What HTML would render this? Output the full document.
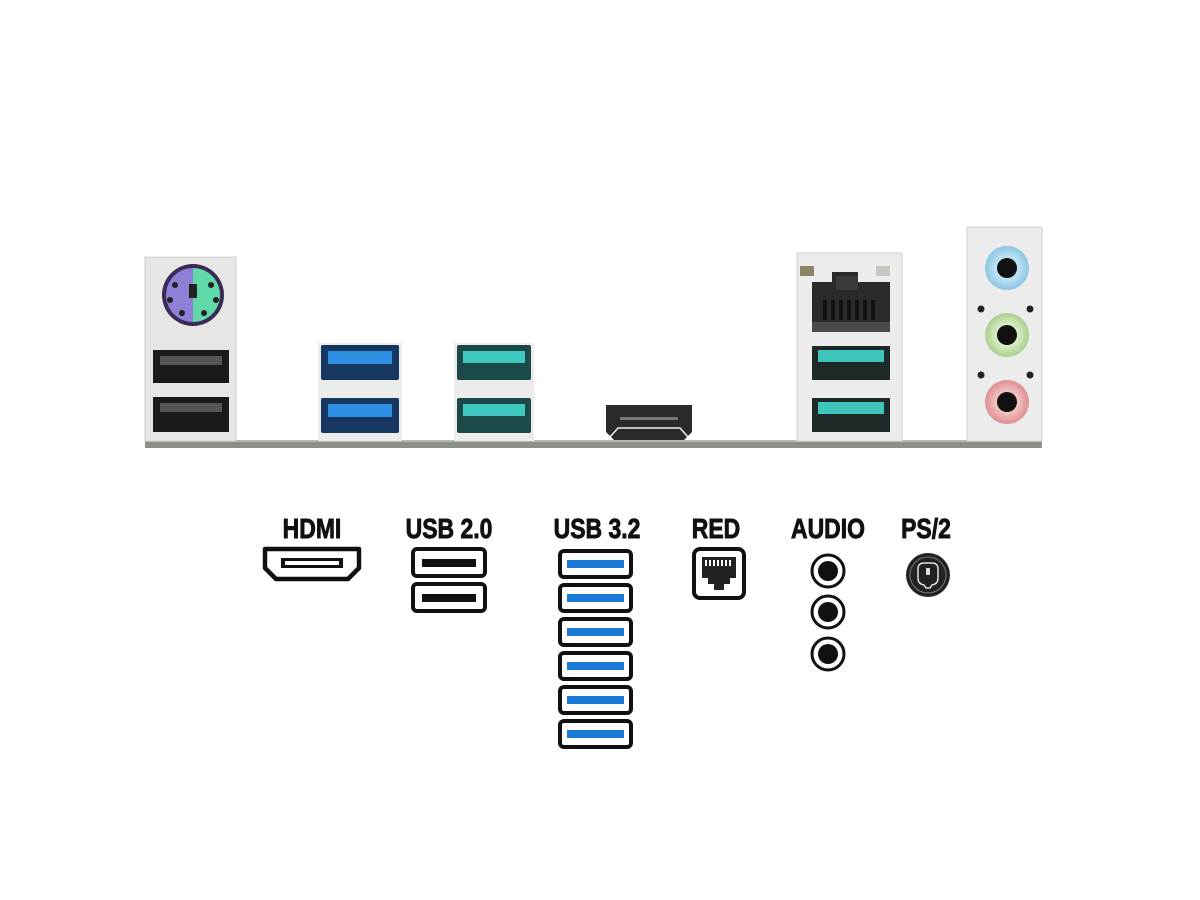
<!DOCTYPE html>
<html><head><meta charset="utf-8"><style>
html,body{margin:0;padding:0;background:#fff;}
svg{display:block;}
text{font-family:"Liberation Sans Narrow","Liberation Sans",sans-serif;font-weight:bold;fill:#111;stroke:#111;stroke-width:0.9;}
</style></head><body>
<svg width="1200" height="900" viewBox="0 0 1200 900" xmlns="http://www.w3.org/2000/svg">
<defs>
<radialGradient id="jb" cx="50%" cy="50%" r="50%"><stop offset="0.5" stop-color="#bfe3f5"/><stop offset="1" stop-color="#8cc5e3"/></radialGradient>
<radialGradient id="jg" cx="50%" cy="50%" r="50%"><stop offset="0.5" stop-color="#d8ecc4"/><stop offset="1" stop-color="#a9cf8f"/></radialGradient>
<radialGradient id="jp" cx="50%" cy="50%" r="50%"><stop offset="0.5" stop-color="#f3c0c0"/><stop offset="1" stop-color="#de8f92"/></radialGradient>
</defs>

<rect x="145" y="440" width="897" height="8" fill="#8c8f88"/>
<rect x="145" y="440" width="897" height="2" fill="#b5b8b0"/>

<rect x="145" y="257" width="91" height="184" fill="#e6e6e4" stroke="#cfcfcd"/>
<circle cx="193" cy="295" r="31" fill="#3a2a55"/>
<path d="M193 268 A27 27 0 0 0 193 322 Z" fill="#8f7fd6"/>
<path d="M193 268 A27 27 0 0 1 193 322 Z" fill="#5fd9a8"/>
<rect x="189" y="284" width="8" height="14" fill="#222"/>
<g fill="#222"><circle cx="175" cy="285" r="3"/><circle cx="211" cy="285" r="3"/><circle cx="170" cy="300" r="3"/><circle cx="216" cy="300" r="3"/><circle cx="182" cy="313" r="3"/><circle cx="204" cy="313" r="3"/></g>
<rect x="153" y="350" width="76" height="33" fill="#1a1a1a"/>
<rect x="160" y="356" width="62" height="9" fill="#555"/>
<rect x="153" y="397" width="76" height="35" fill="#1a1a1a"/>
<rect x="160" y="403" width="62" height="9" fill="#555"/>

<rect x="318" y="343" width="84" height="98" fill="#ececec"/>
<rect x="321" y="345" width="78" height="35" rx="2" fill="#173763"/>
<rect x="328" y="351" width="64" height="13" fill="#2e8fe0"/>
<rect x="321" y="398" width="78" height="35" rx="2" fill="#173763"/>
<rect x="328" y="404" width="64" height="13" fill="#2e8fe0"/>

<rect x="454" y="343" width="80" height="98" fill="#ececec"/>
<rect x="457" y="345" width="74" height="35" rx="2" fill="#1c4a48"/>
<rect x="463" y="351" width="62" height="12" fill="#3fc9c0"/>
<rect x="457" y="398" width="74" height="35" rx="2" fill="#1c4a48"/>
<rect x="463" y="404" width="62" height="12" fill="#3fc9c0"/>

<path d="M606 405 H692 V432 L684 440 H614 L606 432 Z" fill="#2a2a2a"/>
<rect x="620" y="417" width="58" height="3" fill="#777"/>
<path d="M610 437 L618 428 H680 L688 437" fill="none" stroke="#eee" stroke-width="1.5"/>

<rect x="797" y="253" width="105" height="188" fill="#ececec" stroke="#d0d0d0"/>
<rect x="800" y="266" width="14" height="10" fill="#8a8464"/>
<rect x="876" y="266" width="14" height="10" fill="#c9c6c0"/>
<path d="M812 282 H832 V272 H858 V282 H890 V332 H812 Z" fill="#2b2b2b"/>
<rect x="836" y="276" width="22" height="14" fill="#3a3a3a"/>
<g fill="#111"><rect x="823" y="300" width="4" height="20"/><rect x="831" y="300" width="4" height="20"/><rect x="839" y="300" width="4" height="20"/><rect x="847" y="300" width="4" height="20"/><rect x="855" y="300" width="4" height="20"/><rect x="863" y="300" width="4" height="20"/><rect x="871" y="300" width="4" height="20"/></g>
<rect x="812" y="322" width="78" height="10" fill="#4a4a4a"/>
<rect x="812" y="346" width="78" height="34" fill="#1e2a2a"/>
<rect x="818" y="350" width="66" height="12" fill="#3fc4bb"/>
<rect x="812" y="398" width="78" height="34" fill="#1e2a2a"/>
<rect x="818" y="402" width="66" height="12" fill="#3fc4bb"/>

<rect x="967" y="227" width="75" height="214" fill="#ececec" stroke="#cfcfcf"/>
<circle cx="1007" cy="268" r="22" fill="url(#jb)"/><circle cx="1007" cy="268" r="10" fill="#111"/>
<circle cx="1007" cy="335" r="22" fill="url(#jg)"/><circle cx="1007" cy="335" r="10" fill="#111"/>
<circle cx="1007" cy="402" r="22" fill="url(#jp)"/><circle cx="1007" cy="402" r="10" fill="#111"/>
<g fill="#222"><circle cx="981" cy="309" r="3.5"/><circle cx="1030" cy="309" r="3.5"/><circle cx="981" cy="375" r="3.5"/><circle cx="1030" cy="375" r="3.5"/></g>

<g font-size="28" text-anchor="middle">
<text x="312" y="538" transform="translate(312 0) scale(0.82 1) translate(-312 0)">HDMI</text>
<text x="449" y="538" transform="translate(449 0) scale(0.82 1) translate(-449 0)">USB 2.0</text>
<text x="597" y="538" transform="translate(597 0) scale(0.82 1) translate(-597 0)">USB 3.2</text>
<text x="716" y="538" transform="translate(716 0) scale(0.82 1) translate(-716 0)">RED</text>
<text x="828" y="538" transform="translate(828 0) scale(0.82 1) translate(-828 0)">AUDIO</text>
<text x="926" y="538" transform="translate(926 0) scale(0.82 1) translate(-926 0)">PS/2</text>
</g>

<path d="M265 549 H359 V568 L348 579 H276 L265 568 Z" fill="#fff" stroke="#111" stroke-width="4.5" stroke-linejoin="round"/>
<rect x="281" y="558" width="62" height="10" fill="#111"/>
<rect x="285" y="561" width="54" height="4" fill="#fff"/>

<rect x="413" y="549" width="72" height="27" rx="4" fill="#fff" stroke="#111" stroke-width="4"/>
<rect x="422" y="559" width="54" height="8" fill="#111"/>
<rect x="413" y="584" width="72" height="27" rx="4" fill="#fff" stroke="#111" stroke-width="4"/>
<rect x="422" y="594" width="54" height="8" fill="#111"/>

<g>
<rect x="560" y="551" width="71" height="26" rx="4" fill="#fff" stroke="#111" stroke-width="4"/><rect x="567" y="560" width="57" height="8" fill="#1a7ad6"/>
<rect x="560" y="585" width="71" height="26" rx="4" fill="#fff" stroke="#111" stroke-width="4"/><rect x="567" y="594" width="57" height="8" fill="#1a7ad6"/>
<rect x="560" y="619" width="71" height="26" rx="4" fill="#fff" stroke="#111" stroke-width="4"/><rect x="567" y="628" width="57" height="8" fill="#1a7ad6"/>
<rect x="560" y="653" width="71" height="26" rx="4" fill="#fff" stroke="#111" stroke-width="4"/><rect x="567" y="662" width="57" height="8" fill="#1a7ad6"/>
<rect x="560" y="687" width="71" height="26" rx="4" fill="#fff" stroke="#111" stroke-width="4"/><rect x="567" y="696" width="57" height="8" fill="#1a7ad6"/>
<rect x="560" y="721" width="71" height="26" rx="4" fill="#fff" stroke="#111" stroke-width="4"/><rect x="567" y="730" width="57" height="8" fill="#1a7ad6"/>
</g>

<rect x="694" y="549" width="50" height="49" rx="6" fill="#fff" stroke="#111" stroke-width="4"/>
<path d="M702 557 H736 V578 H730 V584 H724 V590 H714 V584 H708 V578 H702 Z" fill="#222"/>
<g fill="#fff"><rect x="705" y="560" width="2" height="6"/><rect x="709" y="560" width="2" height="6"/><rect x="713" y="560" width="2" height="6"/><rect x="717" y="560" width="2" height="6"/><rect x="721" y="560" width="2" height="6"/><rect x="725" y="560" width="2" height="6"/><rect x="729" y="560" width="2" height="6"/></g>

<g stroke="#111" stroke-width="3" fill="#fff">
<circle cx="828" cy="571" r="16"/><circle cx="828" cy="612" r="16"/><circle cx="828" cy="654" r="16"/>
</g>
<g fill="#111"><circle cx="828" cy="571" r="10"/><circle cx="828" cy="612" r="10"/><circle cx="828" cy="654" r="10"/></g>

<circle cx="928" cy="575" r="22" fill="#222"/>
<circle cx="928" cy="575" r="18" fill="none" stroke="#777" stroke-width="1"/>
<path d="M918 569 Q918 563 924 563 H932 Q938 563 938 569 V578 Q938 584 932 585 L930 588 H926 L924 585 Q918 584 918 578 Z" fill="none" stroke="#ddd" stroke-width="1.5"/>
<rect x="926" y="568" width="4" height="7" fill="#ddd"/>
</svg>
</body></html>
